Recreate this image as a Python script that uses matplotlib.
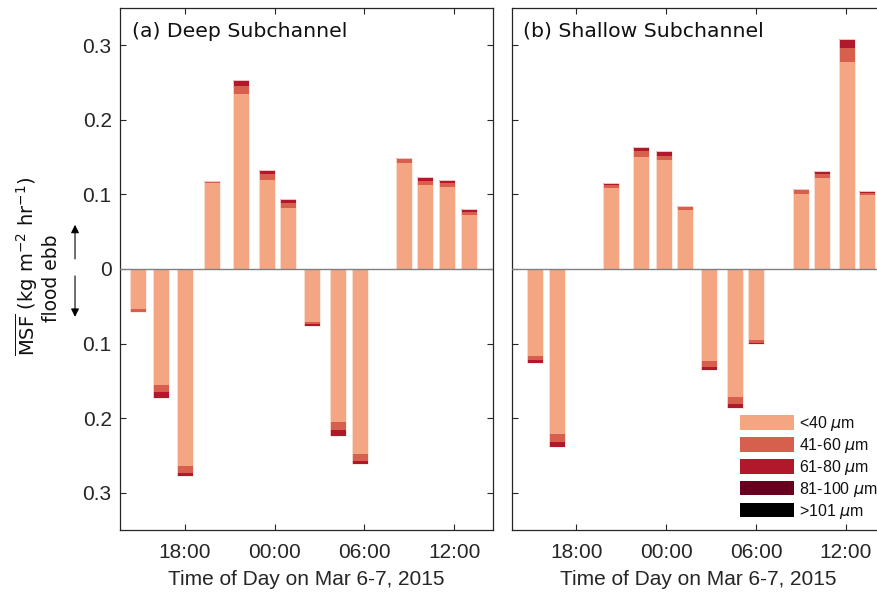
import numpy as np
import matplotlib
matplotlib.use('Agg')
import matplotlib.pyplot as plt

# ── data (hours since Mar 6 00:00; signed: + ebb, - flood) ─────────────────────
deep_time = [14.88, 16.42, 18.00, 19.80, 21.76, 23.50, 24.90,
             26.50, 28.24, 29.71, 32.65, 34.05, 35.52, 36.97]
deep_lt40 = [-0.0538, -0.1557, -0.2640, 0.1147, 0.2350, 0.1190, 0.0820,
             -0.0705, -0.2050, -0.2486, 0.1415, 0.1120, 0.1100, 0.0723]
deep_41_60 = [-0.0041, -0.0090, -0.0090, 0.0020, 0.0110, 0.0080, 0.0060,
              -0.0035, -0.0110, -0.0094, 0.0065, 0.0060, 0.0055, 0.0044]
deep_61_80 = [0.0, -0.0083, -0.0050, 0.0011, 0.0070, 0.0055, 0.0057,
              -0.0030, -0.0083, -0.0036, 0.0015, 0.0050, 0.0035, 0.0033]
deep_81_100 = [0.0] * 14
deep_gt101 = [0.0] * 14

shal_time = [15.21, 16.70, 20.28, 22.29, 23.82, 25.23, 26.85,
             28.59, 29.99, 33.00, 34.40, 36.07, 37.41]
shal_lt40 = [-0.1170, -0.2210, 0.1080, 0.1500, 0.1456, 0.0790, -0.1233,
             -0.1716, -0.0955, 0.1005, 0.1216, 0.2780, 0.0990]
shal_41_60 = [-0.0052, -0.0115, 0.0050, 0.0077, 0.0064, 0.0042, -0.0077,
              -0.0099, -0.0037, 0.0051, 0.0064, 0.0180, 0.0028]
shal_61_80 = [-0.0040, -0.0065, 0.0018, 0.0053, 0.0057, 0.0017, -0.0047,
              -0.0050, -0.0018, 0.0021, 0.0034, 0.0130, 0.0022]
shal_81_100 = [0.0] * 13
shal_gt101 = [0.0] * 13

size_labels = [r'<40 $\mu$m', r'41-60 $\mu$m', r'61-80 $\mu$m',
               r'81-100 $\mu$m', r'>101 $\mu$m']
size_colors = ['#F4A582', '#D6604D', '#B2182B', '#67001F', '#000000']

tick_hours = [18, 24, 30, 36]
tick_labels = ['18:00', '00:00', '06:00', '12:00']
ytick_vals = [-0.3, -0.2, -0.1, 0, 0.1, 0.2, 0.3]
ytick_labels = ['0.3', '0.2', '0.1', '0', '0.1', '0.2', '0.3']

plt.rcParams.update({
    'font.family': 'Liberation Sans',
    'mathtext.fontset': 'dejavusans',
})
TXT = '#262626'

fig = plt.figure(figsize=(8.78, 5.94), dpi=100)
W, H = 878, 594
axL = fig.add_axes([120 / W, 1 - 530 / H, 373.3 / W, 522 / H])
axR = fig.add_axes([511.7 / W, 1 - 530 / H, 373.3 / W, 522 / H])


def draw_panel(ax, times, layers, title, show_ylabels):
    bottom = np.zeros(len(times))
    handles = []
    for vals, c, lab in zip(layers, size_colors, size_labels):
        vals = np.asarray(vals)
        h = ax.bar(times, vals, width=1.07, bottom=bottom, color=c,
                   linewidth=0, zorder=2, label=lab)
        handles.append(h)
        bottom = bottom + vals
    # faint pale outline round each whole bar
    ax.bar(times, bottom, width=1.07, fill=False, edgecolor='#FBE6DE',
           linewidth=0.6, zorder=2.5)
    ax.axhline(0, color='#808080', lw=1.0, zorder=3)
    ax.set_xlim(13.68, 38.61)
    ax.set_ylim(-0.35, 0.35)
    ax.set_xticks(tick_hours)
    ax.set_xticklabels(tick_labels)
    ax.set_yticks(ytick_vals)
    if show_ylabels:
        ax.set_yticklabels(ytick_labels)
    else:
        ax.set_yticklabels([])
    ax.tick_params(direction='in', top=True, right=True, length=4.5,
                   width=0.8, color=TXT, labelcolor=TXT, labelsize=15)
    ax.tick_params(axis='x', pad=9)
    ax.tick_params(axis='y', pad=6)
    for sp in ax.spines.values():
        sp.set_color(TXT)
        sp.set_linewidth(0.9)
    ax.set_xlabel('Time of Day on Mar 6-7, 2015', fontsize=15, color=TXT,
                  labelpad=6)
    ax.text(0.031, 0.955, title, transform=ax.transAxes, ha='left',
            va='center', fontsize=14.7, family='DejaVu Sans', color='#111111')
    return handles


draw_panel(axL, deep_time,
           [deep_lt40, deep_41_60, deep_61_80, deep_81_100, deep_gt101],
           '(a) Deep Subchannel', True)
handles = draw_panel(axR, shal_time,
                     [shal_lt40, shal_41_60, shal_61_80, shal_81_100, shal_gt101],
                     '(b) Shallow Subchannel', False)

# y label with flood / ebb arrows
axL.text(-0.25, 0.506, r'$\overline{\mathrm{MSF}}$ (kg m$^{-2}$ hr$^{-1}$)',
         transform=axL.transAxes, rotation=90, ha='center', va='center',
         fontsize=14, family='DejaVu Sans', color='#111111')
axL.text(-0.183, 0.482, 'flood ebb', transform=axL.transAxes, rotation=90,
         ha='center', va='center', fontsize=13.5, family='DejaVu Sans',
         color='#111111')
axL.annotate('', xy=(-0.1205, 0.590), xytext=(-0.1205, 0.514),
             xycoords='axes fraction', textcoords='axes fraction',
             arrowprops=dict(arrowstyle='-|>', color='black', lw=0.8,
                             mutation_scale=12))
axL.annotate('', xy=(-0.1205, 0.403), xytext=(-0.1205, 0.492),
             xycoords='axes fraction', textcoords='axes fraction',
             arrowprops=dict(arrowstyle='-|>', color='black', lw=0.8,
                             mutation_scale=12))

# legend (frameless, lower right of right panel)
leg = axR.legend(handles=[h.patches[0] for h in handles], labels=size_labels,
                 loc='upper left', bbox_to_anchor=(0.612, 0.222),
                 frameon=False, fontsize=11.5, handlelength=3.4,
                 handleheight=1.0, handletextpad=0.3, labelspacing=0.18,
                 borderpad=0, borderaxespad=0)
for t in leg.get_texts():
    t.set_color('#111111')

fig.savefig('out.png', dpi=100, facecolor='white')
